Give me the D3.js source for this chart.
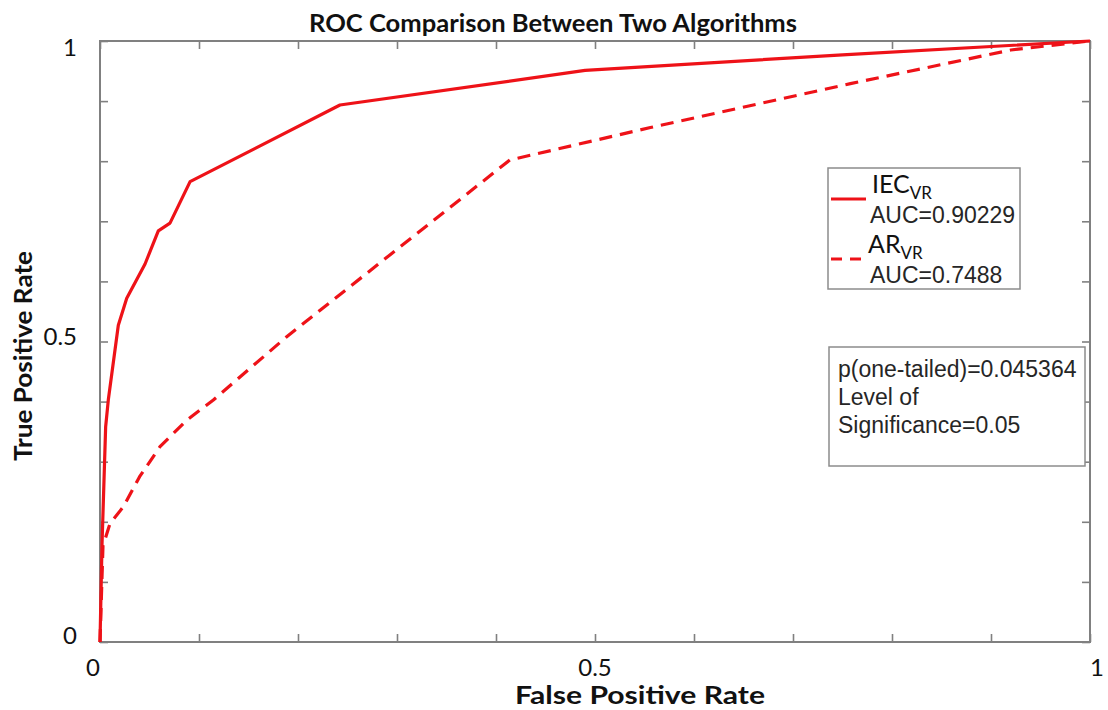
<!DOCTYPE html>
<html>
<head>
<meta charset="utf-8">
<script src="https://cdn.jsdelivr.net/npm/d3@7"></script>
<style>
  body { margin: 0; background: #fff; }
  svg { display: block; }
</style>
</head>
<body>
<svg id="chart" width="1108" height="710"></svg>
<script>
// ROC curve of IEC_VR (solid)
const iecFpr = [0, 0.002, 0.0057, 0.0084, 0.0185, 0.027, 0.0455, 0.0589, 0.0707, 0.091, 0.2424, 0.49, 0.75, 1];
const iecTpr = [0, 0.16, 0.358, 0.403, 0.527, 0.572, 0.629, 0.684, 0.697, 0.766, 0.8935, 0.951, 0.977, 1];

// ROC curve of AR_VR (dashed)
const arFpr = [0, 0.003, 0.0101, 0.0236, 0.040, 0.0606, 0.0875, 0.1145, 0.1886, 0.414, 0.556, 0.758, 0.92, 1];
const arTpr = [0, 0.16, 0.197, 0.225, 0.275, 0.325, 0.369, 0.4026, 0.508, 0.802, 0.856, 0.929, 0.985, 1];

const seriesNames = ["IEC", "AR"];
const seriesSub = ["VR", "VR"];
const aucValues = ["0.90229", "0.7488"];
const statLines = ["p(one-tailed)=0.045364", "Level of", "Significance=0.05"];

const minorTicks = [0, 0.1, 0.2, 0.3, 0.4, 0.5, 0.6, 0.7, 0.8, 0.9, 1];
const labelTicks = [0, 0.5, 1];
const tickLabels = ["0", "0.5", "1"];

const svg = d3.select("#chart");
const W = 1108, H = 710;
const m = { left: 100, right: 18, top: 41, bottom: 68 };
const pw = W - m.left - m.right, ph = H - m.top - m.bottom;

const x = d3.scaleLinear().domain([0, 1]).range([m.left, m.left + pw]);
const y = d3.scaleLinear().domain([0, 1]).range([m.top + ph, m.top]);

const axisColor = "#808080";
const red = "#ee1218";

// inward ticks on all four sides
const tk = 8;
function styleAxis(g) {
  g.select(".domain").remove();
  g.selectAll(".tick line").attr("stroke", axisColor).attr("stroke-width", 1.6);
  g.selectAll(".tick text").remove();
}
svg.append("g").attr("transform", `translate(0,${y(0)})`)
  .call(d3.axisBottom(x).tickValues(minorTicks).tickSize(-tk)).call(styleAxis);
svg.append("g").attr("transform", `translate(0,${y(1)})`)
  .call(d3.axisTop(x).tickValues(minorTicks).tickSize(-tk)).call(styleAxis);
svg.append("g").attr("transform", `translate(${x(0)},0)`)
  .call(d3.axisLeft(y).tickValues(minorTicks).tickSize(-tk)).call(styleAxis);
svg.append("g").attr("transform", `translate(${x(1)},0)`)
  .call(d3.axisRight(y).tickValues(minorTicks).tickSize(-tk)).call(styleAxis);

// frame
svg.append("rect")
  .attr("x", x(0)).attr("y", y(1))
  .attr("width", x(1) - x(0)).attr("height", y(0) - y(1))
  .attr("fill", "none").attr("stroke", axisColor).attr("stroke-width", 2);

// tick labels: end labels are kept flush with the frame
const tickFont = "Lato, 'Open Sans', sans-serif";
svg.append("g").selectAll("text").data(labelTicks).join("text")
  .attr("x", d => x(d))
  .attr("y", y(0) + 34)
  .attr("text-anchor", (d, i) => i === 0 ? "end" : (i === labelTicks.length - 1 ? "start" : "middle"))
  .attr("font-family", tickFont).attr("font-size", 24).attr("fill", "#111")
  .text((d, i) => tickLabels[i]);
svg.append("g").selectAll("text").data(labelTicks).join("text")
  .attr("x", x(0) - 23)
  .attr("y", (d, i) => i === 0 ? y(d) + 2 : (i === labelTicks.length - 1 ? y(d) + 15 : y(d) + 3))
  .attr("text-anchor", "end")
  .attr("font-family", tickFont).attr("font-size", 24).attr("fill", "#111")
  .text((d, i) => tickLabels[i]);

// curves
const line = d3.line().x(d => x(d[0])).y(d => y(d[1]));
const iecPts = iecFpr.map((v, i) => [v, iecTpr[i]]);
const arPts = arFpr.map((v, i) => [v, arTpr[i]]);

svg.append("path").datum(arPts).attr("d", line)
  .attr("fill", "none").attr("stroke", red).attr("stroke-width", 3.2)
  .attr("stroke-dasharray", "13,8").attr("stroke-linejoin", "round");
svg.append("path").datum(iecPts).attr("d", line)
  .attr("fill", "none").attr("stroke", red).attr("stroke-width", 3.2)
  .attr("stroke-linejoin", "round");

// title and axis labels
const boldFont = "Lato, 'Open Sans', sans-serif";
svg.append("text").attr("x", 553).attr("y", 32).attr("text-anchor", "middle")
  .attr("font-family", boldFont).attr("font-weight", "bold").attr("font-size", 25)
  .attr("textLength", 488).attr("lengthAdjust", "spacingAndGlyphs")
  .attr("fill", "#111").text("ROC Comparison Between Two Algorithms");
svg.append("text").attr("x", 640).attr("y", 704).attr("text-anchor", "middle")
  .attr("font-family", boldFont).attr("font-weight", "bold").attr("font-size", 25)
  .attr("textLength", 250).attr("lengthAdjust", "spacingAndGlyphs")
  .attr("fill", "#111").text("False Positive Rate");
svg.append("text").attr("transform", "translate(32,356) rotate(-90)").attr("text-anchor", "middle")
  .attr("font-family", boldFont).attr("font-weight", "bold").attr("font-size", 25)
  .attr("textLength", 210).attr("lengthAdjust", "spacingAndGlyphs")
  .attr("fill", "#111").text("True Positive Rate");

// legend
const lg = svg.append("g").attr("transform", "translate(828,168)");
lg.append("rect").attr("width", 192).attr("height", 121)
  .attr("fill", "#fff").attr("stroke", "#8c8c8c").attr("stroke-width", 1.5);
const dashes = [null, "11,8"];
seriesNames.forEach((name, i) => {
  const oy = i * 60;
  lg.append("line").attr("x1", 3).attr("x2", 38).attr("y1", 31 + oy).attr("y2", 31 + oy)
    .attr("stroke", red).attr("stroke-width", 3.2)
    .attr("stroke-dasharray", dashes[i]);
  const t = lg.append("text").attr("x", 44 - i * 4).attr("y", 25 + oy)
    .attr("font-family", "Lato, sans-serif").attr("font-size", 25).attr("fill", "#111");
  t.append("tspan").text(name);
  t.append("tspan").attr("font-size", 17).attr("dy", 6).text(seriesSub[i]);
  lg.append("text").attr("x", 42).attr("y", 55 + oy)
    .attr("font-family", "'Liberation Sans', Arial, sans-serif").attr("font-size", 23)
    .attr("fill", "#262626").text("AUC=" + aucValues[i]);
});

// significance box
const sg = svg.append("g").attr("transform", "translate(829,347)");
sg.append("rect").attr("width", 256).attr("height", 119)
  .attr("fill", "#fff").attr("stroke", "#8c8c8c").attr("stroke-width", 1.5);
sg.selectAll("text").data(statLines).join("text")
  .attr("x", 9).attr("y", (d, i) => 30 + i * 28)
  .attr("font-family", "'Liberation Sans', Arial, sans-serif").attr("font-size", 23)
  .attr("fill", "#262626").text(d => d);
</script>
</body>
</html>
